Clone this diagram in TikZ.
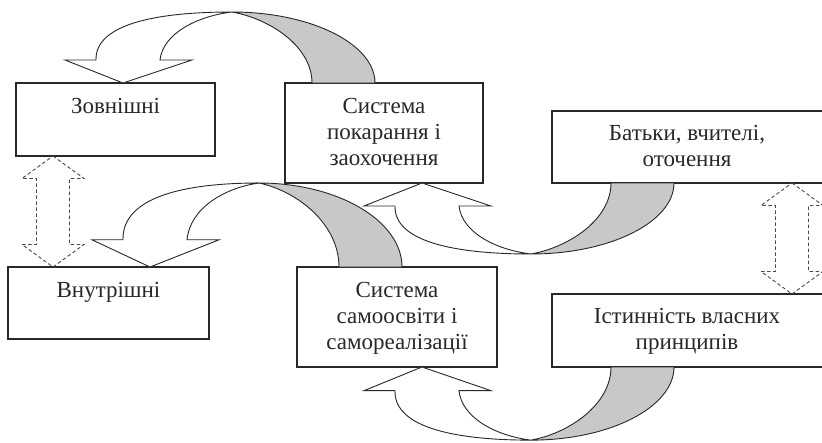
\documentclass[tikz,border=0pt]{standalone}
\usepackage{fontspec}
\setmainfont{Liberation Serif}
\usetikzlibrary{calc}
\definecolor{bandgray}{RGB}{200,200,200}
\definecolor{ink}{RGB}{40,40,40}
\tikzset{
  boxnode/.style={draw=ink, line width=1.3pt, inner sep=0pt, outer sep=0pt, anchor=north west, fill=white},
  txtnode/.style={inner sep=0pt, anchor=north, align=center, text=ink, font=\fontsize{23}{26}\selectfont},
  arrowline/.style={draw=ink, line width=0.9pt, line join=miter},
  dashline/.style={draw=ink!85, line width=0.9pt, dash pattern=on 3.5pt off 2.5pt},
}
% curved band arrow: #1 = origin (outer corner of the base), #2 = vertical scale
\newcommand\curvedband[2]{%
  \begin{scope}[shift={(#1)}, yscale=#2]
    \filldraw[arrowline, fill=white] (-279,23) -- (-310,23) -- (-252,0) -- (-183,23) -- (-215,23)
      .. controls (-212,50) and (-177,67) .. (-143,71)
      .. controls (-215,71) and (-280,60) .. (-279,23) -- cycle;
    \filldraw[arrowline, fill=bandgray] (-143,71) .. controls (-64,71) and (0,39) .. (0,0)
      -- (-63,0) .. controls (-63,36) and (-104,64) .. (-143,71) -- cycle;
  \end{scope}}
% dashed double arrow between two tips #1 (top) and #2 (bottom)
\newcommand\dashdouble[2]{%
  \draw[dashline] (#1) -- ($(#1)+(31,22.5)$) -- ($(#1)+(16.5,22.5)$) -- ($(#2)+(16.5,-22.5)$)
    -- ($(#2)+(31,-22.5)$) -- (#2) -- ($(#2)+(-31,-22.5)$) -- ($(#2)+(-16.5,-22.5)$)
    -- ($(#1)+(-16.5,22.5)$) -- ($(#1)+(-31,22.5)$) -- cycle;}
\begin{document}
\begin{tikzpicture}[x=1pt,y=-1pt]
\useasboundingbox (0,0) rectangle (822,442);
\clip (0,0) rectangle (822,442);
\fill[white] (0,0) rectangle (822,442);

% boxes
\node[boxnode, minimum width=199pt, minimum height=73pt] (zov) at (16,83) {};
\node[boxnode, minimum width=198pt, minimum height=100pt] (sp) at (285,83) {};
\node[boxnode, minimum width=274pt, minimum height=72pt] (bat) at (552,111) {};
\node[boxnode, minimum width=201pt, minimum height=72pt] (vn) at (8,267) {};
\node[boxnode, minimum width=200pt, minimum height=100pt] (ss) at (297,267) {};
\node[boxnode, minimum width=274pt, minimum height=73pt] (ist) at (552,294) {};

% texts
\node[txtnode] (zovt) at ($(zov.north)+(0,11.8)$) {\strut Зовнішні};
\node[txtnode] (spt) at ($(sp.north)+(0,11.8)$) {\strut Система\\покарання і\\заохочення};
\node[txtnode] (batt) at ($(bat.north)+(-2,10.8)$) {\strut Батьки, вчителі,\\оточення};
\node[txtnode] (vnt) at ($(vn.north)+(0,11.8)$) {\strut Внутрішні};
\node[txtnode] (sst) at ($(ss.north)+(0,11.8)$) {\strut Система\\самоосвіти і\\самореалізації};
\node[txtnode] (istt) at ($(ist.north)+(-2,10.8)$) {\strut Істинність власних\\принципів};

% anchors of the curved arrows
\coordinate (a1) at ($(sp.north west)+(90,0)$);
\coordinate (a2) at ($(ss.north west)+(105,0)$);
\coordinate (a3) at ($(bat.south west)+(122,0)$);
\coordinate (a4) at ($(ist.south west)+(122,0)$);

\curvedband{a2}{-1.183}
\curvedband{a3}{1}
\curvedband{a1}{-1}
\curvedband{a4}{1.03}

% dashed double arrows
\coordinate (d1a) at ($(zov.south west)+(37,0)$);
\coordinate (d1b) at ($(vn.north west)+(45,0)$);
\coordinate (d2a) at ($(bat.south west)+(240,0)$);
\coordinate (d2b) at ($(ist.north west)+(240,0)$);
\dashdouble{d1a}{d1b}
\dashdouble{d2a}{d2b}
\end{tikzpicture}
\end{document}
